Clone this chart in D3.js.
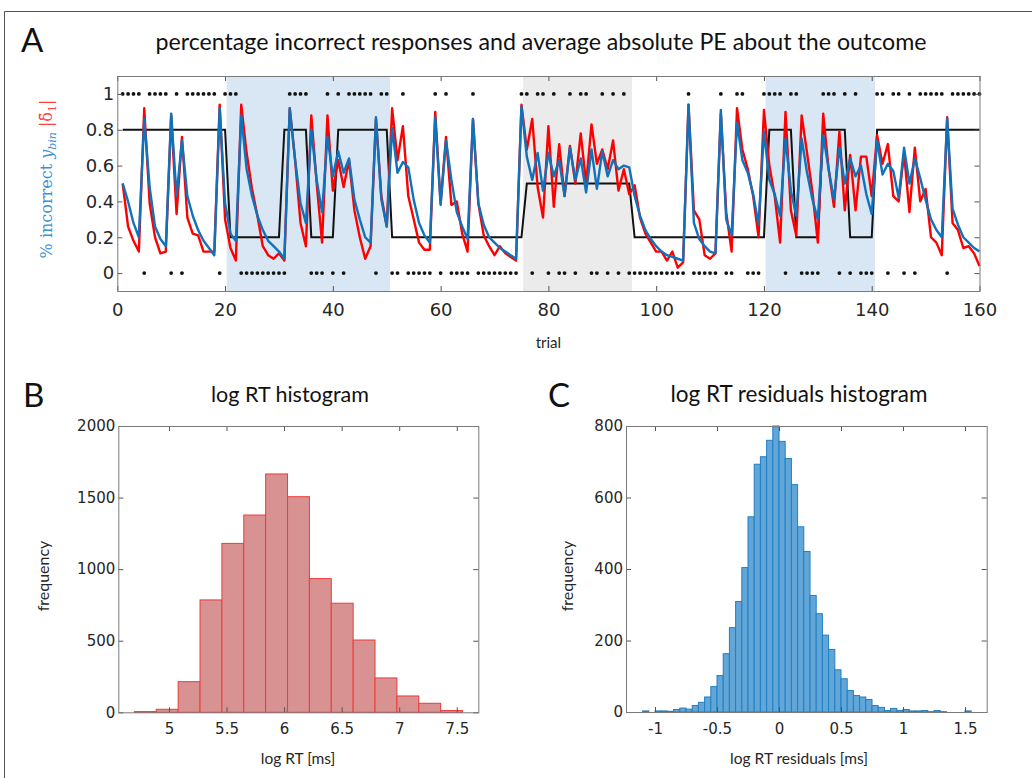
<!DOCTYPE html>
<html><head><meta charset="utf-8">
<script src="https://cdn.jsdelivr.net/npm/d3@7"></script>
<style>body{margin:0;background:#fff}svg{display:block}</style>
</head><body>
<svg id="fig" width="1032" height="778"></svg>
<script>
// ---------------- DATA ----------------
const trials = d3.range(1, 161);
const outcome = [
1,1,1,1,0,1,1,1,1,0, 1,0,1,1,1,1,1,1,0,1, 1,1,0,0,0,0,0,0,0,0, 0,1,1,1,1,0,0,0,1,0,
1,0,1,1,1,1,1,0,1,1, 0,0,1,0,0,0,0,0,1,0, 1,0,0,0,0,1,0,0,0,0, 0,0,0,0,1,1,0,1,1,0,
1,0,0,1,0,1,1,0,0,1, 0,1,0,1,0,0,0,0,0,0, 0,0,0,0,0,1,0,0,0,0, 0,1,0,0,1,1,0,0,0,1,
1,1,1,0,1,1,0,0,0,0, 1,1,1,0,1,0,1,0,0,0, 1,1,0,1,1,0,1,0,1,1, 1,1,1,0,1,1,1,1,1,1];
const prob = [
.8,.8,.8,.8,.8,.8,.8,.8,.8,.8, .8,.8,.8,.8,.8,.8,.8,.8,.8,.8, .2,.2,.2,.2,.2,.2,.2,.2,.2,.2, .8,.8,.8,.8,.8,.2,.2,.2,.2,.2,
.8,.8,.8,.8,.8,.8,.8,.8,.8,.8, .2,.2,.2,.2,.2,.2,.2,.2,.2,.2, .2,.2,.2,.2,.2,.2,.2,.2,.2,.2, .2,.2,.2,.2,.2,.5,.5,.5,.5,.5,
.5,.5,.5,.5,.5,.5,.5,.5,.5,.5, .5,.5,.5,.5,.5,.2,.2,.2,.2,.2, .2,.2,.2,.2,.2,.2,.2,.2,.2,.2, .2,.2,.2,.2,.2,.2,.2,.2,.2,.2,
.8,.8,.8,.8,.8,.2,.2,.2,.2,.2, .8,.8,.8,.8,.8,.2,.2,.2,.2,.2, .8,.8,.8,.8,.8,.8,.8,.8,.8,.8, .8,.8,.8,.8,.8,.8,.8,.8,.8,.8];
const absPE = [
.50,.26,.18,.12,.92,.39,.20,.11,.12,.88, .33,.76,.31,.22,.21,.12,.12,.12,.94,.30,
.14,.07,.94,.67,.47,.32,.15,.10,.08,.11, .07,.92,.63,.28,.15,.88,.50,.17,.88,.46,
.63,.48,.63,.35,.20,.08,.15,.86,.43,.26, .92,.63,.82,.43,.30,.17,.13,.13,.90,.39,
.76,.38,.40,.22,.12,.86,.39,.21,.15,.10, .15,.11,.09,.07,.94,.69,.86,.48,.31,.82,
.37,.72,.43,.71,.50,.78,.50,.83,.61,.69, .58,.74,.46,.58,.44,.49,.31,.22,.17,.12,
.12,.07,.12,.03,.06,.94,.35,.30,.10,.08, .11,.89,.34,.12,.92,.69,.58,.43,.20,.91,
.60,.43,.17,.90,.35,.21,.88,.67,.45,.17, .89,.58,.37,.79,.35,.66,.35,.65,.65,.43,
.77,.61,.72,.43,.40,.67,.34,.70,.40,.47, .20,.17,.10,.87,.28,.24,.14,.15,.11,.04];
const pctIncorrect = [
.50,.40,.28,.20,.86,.48,.26,.19,.15,.89, .43,.74,.43,.32,.24,.18,.14,.10,.92,.39,
.22,.18,.88,.58,.43,.32,.24,.18,.15,.12, .08,.92,.63,.39,.28,.80,.52,.34,.76,.54,
.68,.56,.64,.41,.30,.20,.17,.87,.41,.26, .81,.56,.62,.59,.41,.28,.21,.17,.87,.38,
.74,.52,.34,.26,.19,.86,.39,.27,.20,.17, .14,.12,.10,.08,.93,.65,.52,.67,.46,.67,
.54,.63,.43,.70,.52,.64,.45,.69,.47,.68, .54,.63,.58,.60,.59,.43,.32,.24,.19,.15,
.12,.10,.09,.08,.07,.94,.28,.19,.15,.12, .11,.91,.30,.21,.84,.63,.56,.44,.27,.79,
.52,.44,.32,.75,.46,.32,.75,.56,.41,.30, .77,.58,.41,.70,.50,.64,.54,.60,.44,.33,
.74,.55,.61,.57,.42,.70,.50,.64,.53,.41, .30,.24,.20,.86,.36,.27,.20,.17,.14,.12];
const shadeStart = [20.3, 75.3, 120.3];
const shadeEnd   = [50.6, 95.5, 140.6];
const shadeKind  = ["volatile", "uncertain", "volatile"];
const xTicksA = [0,20,40,60,80,100,120,140,160];
const yTicksA = [0,0.2,0.4,0.6,0.8,1];

const rtEdges  = [4.70,4.89,5.08,5.27,5.46,5.65,5.84,6.03,6.22,6.41,6.60,6.79,6.98,7.17,7.36,7.55];
const rtCounts = [5,21,214,785,1180,1378,1665,1506,934,762,505,240,114,63,12];
const rtXTicks = [5,5.5,6,6.5,7,7.5];
const rtYTicks = [0,500,1000,1500,2000];

const resEdges = [-1.10,-1.05,-1.00,-0.95,-0.90,-0.85,-0.80,-0.75,-0.70,-0.65,-0.60,-0.55,-0.50,-0.45,-0.40,-0.35,-0.30,-0.25,-0.20,-0.15,-0.10,-0.05,
  0.00,0.05,0.10,0.15,0.20,0.25,0.30,0.35,0.40,0.45,0.50,0.55,0.60,0.65,0.70,0.75,0.80,0.85,0.90,0.95,1.00,1.05,1.10,1.15,1.20,1.25,1.30,1.35,1.40,1.45,1.50,1.55];
const resCounts = [3,0,3,3,2,7,11,8,18,27,42,71,102,163,236,309,404,546,693,714,760,800,
  757,709,636,518,449,326,275,215,175,118,93,60,46,42,35,18,13,4,10,4,7,3,3,4,1,4,1,0,0,0,3];
const resXTicks = [-1,-0.5,0,0.5,1,1.5];
const resYTicks = [0,200,400,600,800];

// ---------------- DRAW ----------------
const svg = d3.select("#fig");
const TICKFONT = "DejaVu Sans";
const LABFONT = "Lato";
const AXCOL = "#7a7a7a";
const TXTCOL = "#262626";
const fmt = d => String(d);

// outer frame
svg.append("path").attr("d","M1032,11.5H4.5V778").attr("fill","none").attr("stroke","#555").attr("stroke-width",1);

function boxAxes(g, x, y, xt, yt, fs, xpad) {
  const [x0,x1] = x.range(), [y0,y1] = y.range();
  const bottom = g.append("g").attr("transform",`translate(0,${y0})`)
    .call(d3.axisBottom(x).tickValues(xt).tickFormat(fmt).tickSizeInner(-5).tickSizeOuter(0).tickPadding(xpad));
  const top = g.append("g").attr("transform",`translate(0,${y1})`)
    .call(d3.axisTop(x).tickValues(xt).tickFormat("").tickSizeInner(-5).tickSizeOuter(0));
  const left = g.append("g").attr("transform",`translate(${x0},0)`)
    .call(d3.axisLeft(y).tickValues(yt).tickFormat(fmt).tickSizeInner(-5).tickSizeOuter(0).tickPadding(3));
  const right = g.append("g").attr("transform",`translate(${x1},0)`)
    .call(d3.axisRight(y).tickValues(yt).tickFormat("").tickSizeInner(-5).tickSizeOuter(0));
  [bottom,top,left,right].forEach(a=>{
    a.select(".domain").remove();
    a.selectAll("line").attr("stroke","#555");
    a.selectAll("text").attr("fill",TXTCOL).attr("font-family",TICKFONT).attr("font-size",fs);
  });
  g.append("rect").attr("x",x0+0.5).attr("y",y1+0.5).attr("width",x1-x0).attr("height",y0-y1)
    .attr("fill","none").attr("stroke",AXCOL).attr("stroke-width",1);
}

// ---------- Panel A ----------
const xA = d3.scaleLinear().domain([0,160]).range([117.3,979.5]);
const yA = d3.scaleLinear().domain([-0.1,1.1]).range([291,76]);
const gA = svg.append("g");

gA.selectAll("rect.shade").data(shadeStart.map((s,i)=>({s, e:shadeEnd[i], k:shadeKind[i]})))
  .join("rect").attr("class","shade")
  .attr("x",d=>xA(d.s)).attr("width",d=>xA(d.e)-xA(d.s))
  .attr("y",yA(1.1)).attr("height",yA(-0.1)-yA(1.1))
  .attr("fill",d=>d.k==="volatile" ? "#d8e7f3" : "#ebebeb");

const lineA = (arr)=> d3.line().x((d,i)=>xA(trials[i])).y(d=>yA(d))(arr);
gA.append("path").attr("d",lineA(prob)).attr("fill","none").attr("stroke","#111").attr("stroke-width",2);
gA.append("path").attr("d",lineA(absPE)).attr("fill","none").attr("stroke","#ff0000").attr("stroke-width",2.4).attr("stroke-linejoin","round");
gA.append("path").attr("d",lineA(pctIncorrect)).attr("fill","none").attr("stroke","#0f72bb").attr("stroke-width",2.4).attr("stroke-linejoin","round");
gA.selectAll("circle.out").data(outcome).join("circle").attr("class","out")
  .attr("cx",(d,i)=>xA(trials[i])).attr("cy",d=>yA(d)).attr("r",1.9).attr("fill","#111");

boxAxes(gA, xA, yA, xTicksA, yTicksA, 18, 12);

svg.append("text").attr("x",xA(80)).attr("y",348).attr("text-anchor","middle")
  .attr("font-family",LABFONT).attr("font-size",15).attr("fill",TXTCOL).text("trial");
svg.append("text").attr("x",541).attr("y",50).attr("text-anchor","middle")
  .attr("font-family",LABFONT).attr("font-size",23.2).attr("fill","#111")
  .text("percentage incorrect responses and average absolute PE about the outcome");
// y label (LaTeX-like)
const yl = svg.append("text").attr("transform","translate(52,179) rotate(-90)").attr("text-anchor","middle")
  .attr("font-family","DejaVu Serif").attr("font-size",16);
yl.append("tspan").attr("fill","#3b8fd4").text("% incorrect ");
yl.append("tspan").attr("fill","#3b8fd4").attr("font-style","italic").text("y");
yl.append("tspan").attr("fill","#3b8fd4").attr("font-style","italic").attr("font-size",11).attr("dy",4).text("bin");
yl.append("tspan").attr("fill","#ff4040").attr("dy",-4).text("  |δ̄");
yl.append("tspan").attr("fill","#ff4040").attr("font-size",11).attr("dy",4).text("1");
yl.append("tspan").attr("fill","#ff4040").attr("dy",-4).text("|");

// panel letters
const letter = (t,x,y)=>svg.append("text").attr("x",x).attr("y",y).attr("font-family",LABFONT)
  .attr("font-size",33).attr("fill","#111").text(t);
letter("A",21,52); letter("B",23,407); letter("C",548,407);

// ---------- Panel B ----------
const xB = d3.scaleLinear().domain([4.56,7.687]).range([118.3,478.3]);
const yB = d3.scaleLinear().domain([0,2000]).range([712.3,426]);
const gB = svg.append("g");
gB.selectAll("rect.bar").data(rtCounts).join("rect").attr("class","bar")
  .attr("x",(d,i)=>xB(rtEdges[i])).attr("width",(d,i)=>xB(rtEdges[i+1])-xB(rtEdges[i]))
  .attr("y",d=>yB(d)).attr("height",d=>yB(0)-yB(d))
  .attr("fill","#d99292").attr("stroke","#ee3a3a").attr("stroke-width",1);
boxAxes(gB, xB, yB, rtXTicks, rtYTicks, 15, 11);
svg.append("text").attr("x",290).attr("y",402).attr("text-anchor","middle")
  .attr("font-family",LABFONT).attr("font-size",21.5).attr("fill","#111").text("log RT histogram");
svg.append("text").attr("x",298).attr("y",764).attr("text-anchor","middle")
  .attr("font-family",LABFONT).attr("font-size",15.5).attr("fill",TXTCOL).text("log RT [ms]");
svg.append("text").attr("transform","translate(49,576) rotate(-90)").attr("text-anchor","middle")
  .attr("font-family",LABFONT).attr("font-size",16).attr("fill",TXTCOL).text("frequency");

// ---------- Panel C ----------
const xC = d3.scaleLinear().domain([-1.234,1.675]).range([626,986.7]);
const yC = d3.scaleLinear().domain([0,800]).range([712,426]);
const gC = svg.append("g");
gC.selectAll("rect.bar").data(resCounts).join("rect").attr("class","bar")
  .attr("x",(d,i)=>xC(resEdges[i])).attr("width",(d,i)=>xC(resEdges[i+1])-xC(resEdges[i]))
  .attr("y",d=>yC(d)).attr("height",d=>yC(0)-yC(d))
  .attr("fill","#62a6d8").attr("stroke","#1f7fc4").attr("stroke-width",1);
boxAxes(gC, xC, yC, resXTicks, resYTicks, 15, 11);
svg.append("text").attr("x",799).attr("y",402).attr("text-anchor","middle")
  .attr("font-family",LABFONT).attr("font-size",22.5).attr("fill","#111").text("log RT residuals histogram");
svg.append("text").attr("x",799).attr("y",764).attr("text-anchor","middle")
  .attr("font-family",LABFONT).attr("font-size",15.5).attr("fill",TXTCOL).text("log RT residuals [ms]");
svg.append("text").attr("transform","translate(573,576) rotate(-90)").attr("text-anchor","middle")
  .attr("font-family",LABFONT).attr("font-size",16).attr("fill",TXTCOL).text("frequency");
</script>
</body></html>
